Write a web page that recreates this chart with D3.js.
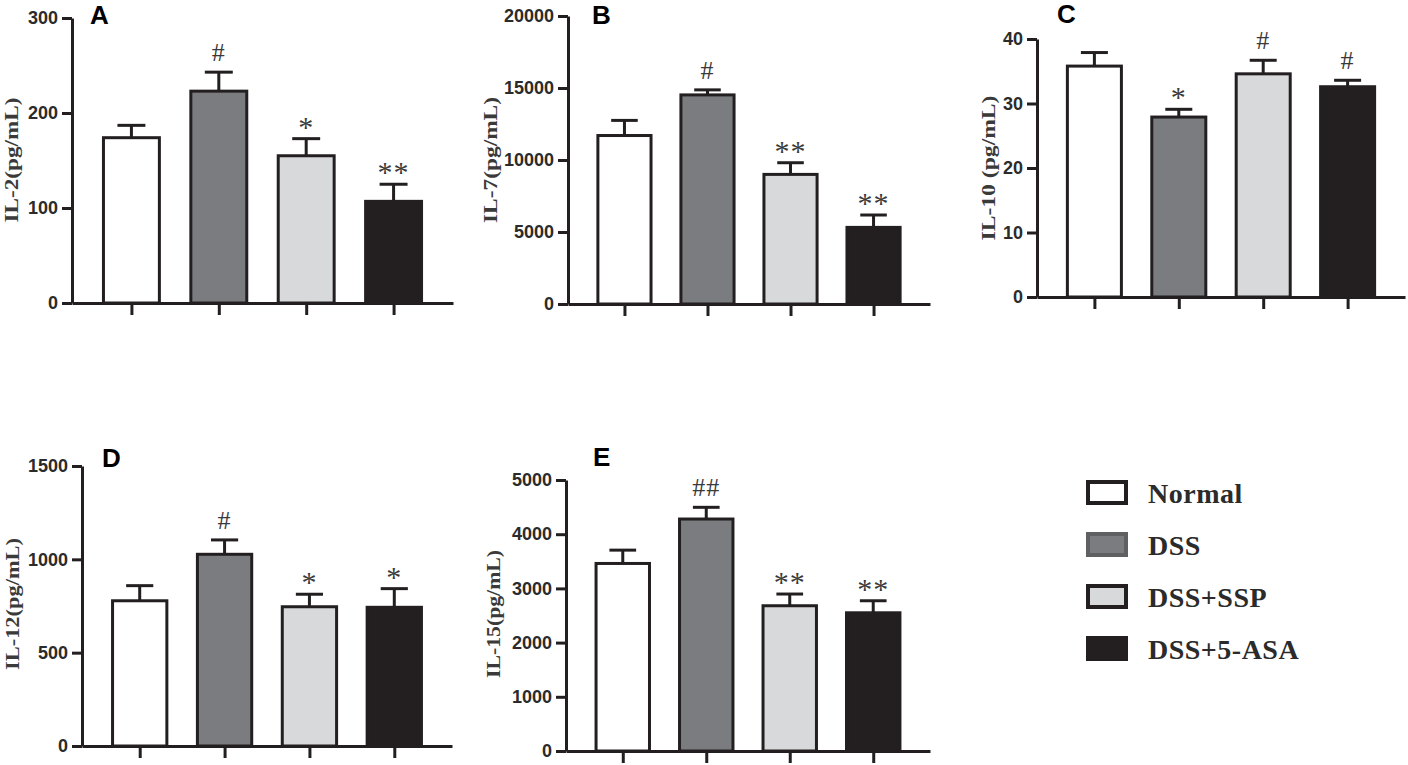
<!DOCTYPE html>
<html>
<head>
<meta charset="utf-8">
<script src="https://cdn.jsdelivr.net/npm/d3@7/dist/d3.min.js"></script>
<style>
  body { margin: 0; background: #fff; }
  svg { display: block; }
</style>
</head>
<body>
<svg id="chart" width="1408" height="765"></svg>
<script>
// groups shared by every panel
var groups = ["Normal", "DSS", "DSS+SSP", "DSS+5-ASA"];

// values (mean, SEM)
var il2Mean = [174, 223, 155, 107];
var il2Err = [13, 20, 18, 18];
var il2Ticks = [0, 100, 200, 300];
var il2Sig = ["", "#", "*", "**"];

var il7Mean = [11700, 14520, 9000, 5320];
var il7Err = [1050, 350, 810, 860];
var il7Ticks = [0, 5000, 10000, 15000, 20000];
var il7Sig = ["", "#", "**", "**"];

var il10Mean = [35.8, 27.9, 34.6, 32.6];
var il10Err = [2.1, 1.2, 2.1, 1.0];
var il10Ticks = [0, 10, 20, 30, 40];
var il10Sig = ["", "*", "#", "#"];

var il12Mean = [778, 1027, 746, 743];
var il12Err = [81, 77, 67, 100];
var il12Ticks = [0, 500, 1000, 1500];
var il12Sig = ["", "#", "*", "*"];

var il15Mean = [3460, 4280, 2680, 2550];
var il15Err = [246, 216, 216, 222];
var il15Ticks = [0, 1000, 2000, 3000, 4000, 5000];
var il15Sig = ["", "##", "**", "**"];

var fills = ["#ffffff", "#7b7c7f", "#d8d9db", "#231f20"];
var ink = "#231f20";

var panels = [
  { letter: "A", label: "IL-2(pg/mL)", mean: il2Mean, err: il2Err, ticks: il2Ticks, sig: il2Sig,
    x0: 72, x1: 453, yTop: 18, yBot: 303, lx: 11, ly: 160, lLen: 125, px: 90, py: 24 },
  { letter: "B", label: "IL-7(pg/mL)", mean: il7Mean, err: il7Err, ticks: il7Ticks, sig: il7Sig,
    x0: 568, x1: 930, yTop: 16, yBot: 304, lx: 490, ly: 160, lLen: 126, px: 592, py: 24 },
  { letter: "C", label: "IL-10 (pg/mL)", mean: il10Mean, err: il10Err, ticks: il10Ticks, sig: il10Sig,
    x0: 1037, x1: 1405, yTop: 39, yBot: 297, lx: 988, ly: 168, lLen: 145, px: 1057, py: 23 },
  { letter: "D", label: "IL-12(pg/mL)", mean: il12Mean, err: il12Err, ticks: il12Ticks, sig: il12Sig,
    x0: 82, x1: 452, yTop: 466, yBot: 746, lx: 12, ly: 604, lLen: 132, px: 102, py: 467 },
  { letter: "E", label: "IL-15(pg/mL)", mean: il15Mean, err: il15Err, ticks: il15Ticks, sig: il15Sig,
    x0: 566, x1: 930, yTop: 480, yBot: 751, lx: 493, ly: 614, lLen: 128, px: 593, py: 466 }
];

var svg = d3.select("#chart");

function drawPanel(p) {
  var g = svg.append("g");
  var rows = groups.map(function(name, i) {
    return { name: name, mean: p.mean[i], err: p.err[i], sig: p.sig[i], fill: fills[i] };
  });

  var x = d3.scalePoint().domain(groups).range([p.x0, p.x1]).padding(0.68);
  var y = d3.scaleLinear().domain([0, d3.max(p.ticks)]).range([p.yBot, p.yTop]);
  var barW = x.step() * 0.64;
  var capW = barW * 0.5;

  // error bars behind the bars
  g.selectAll("line.err")
    .data(rows)
    .enter()
    .append("line")
    .attr("class", "err")
    .attr("x1", function(d) { return x(d.name); })
    .attr("x2", function(d) { return x(d.name); })
    .attr("y1", function(d) { return y(d.mean); })
    .attr("y2", function(d) { return y(d.mean + d.err); })
    .attr("stroke", ink)
    .attr("stroke-width", 3);

  g.selectAll("line.cap")
    .data(rows)
    .enter()
    .append("line")
    .attr("class", "cap")
    .attr("x1", function(d) { return x(d.name) - capW / 2; })
    .attr("x2", function(d) { return x(d.name) + capW / 2; })
    .attr("y1", function(d) { return y(d.mean + d.err); })
    .attr("y2", function(d) { return y(d.mean + d.err); })
    .attr("stroke", ink)
    .attr("stroke-width", 3);

  g.selectAll("rect.bar")
    .data(rows)
    .enter()
    .append("rect")
    .attr("class", "bar")
    .attr("x", function(d) { return x(d.name) - barW / 2; })
    .attr("y", function(d) { return y(d.mean); })
    .attr("width", barW)
    .attr("height", function(d) { return y(0) - y(d.mean); })
    .attr("fill", function(d) { return d.fill; })
    .attr("stroke", ink)
    .attr("stroke-width", 3);

  // significance marks
  g.selectAll("text.sig")
    .data(rows.filter(function(d) { return d.sig; }))
    .enter()
    .append("text")
    .attr("class", "sig")
    .attr("x", function(d) { return x(d.name); })
    .attr("y", function(d) {
      var off = d.sig.charAt(0) === "#" ? 11 : 2;
      return y(d.mean + d.err) - off;
    })
    .attr("text-anchor", "middle")
    .attr("font-family", "'Liberation Serif', 'Times New Roman', serif")
    .attr("font-size", function(d) { return d.sig.charAt(0) === "#" ? "26px" : "30px"; })
    .attr("fill", "#3a3a3a")
    .attr("letter-spacing", "1px")
    .text(function(d) { return d.sig; });

  // axes
  var yAxis = d3.axisLeft(y)
    .tickValues(p.ticks)
    .tickFormat(d3.format("d"))
    .tickSize(10)
    .tickSizeOuter(0)
    .tickPadding(4);
  var ya = g.append("g")
    .attr("transform", "translate(" + p.x0 + ",0)")
    .call(yAxis);

  var xAxis = d3.axisBottom(x).tickSize(12).tickSizeOuter(0).tickFormat("");
  var xa = g.append("g")
    .attr("transform", "translate(0," + p.yBot + ")")
    .call(xAxis);

  [ya, xa].forEach(function(a) {
    a.select(".domain").attr("stroke", ink).attr("stroke-width", 3);
    a.selectAll(".tick line").attr("stroke", ink).attr("stroke-width", 3);
  });

  ya.selectAll(".tick text")
    .attr("font-family", "'Liberation Sans', Arial, sans-serif")
    .attr("font-weight", "bold")
    .attr("font-size", "18px")
    .attr("fill", "#2b2b2b");

  // y label
  g.append("text")
    .attr("transform", "translate(" + p.lx + "," + p.ly + ") rotate(-90)")
    .attr("dy", "0.36em")
    .attr("text-anchor", "middle")
    .attr("font-family", "'Liberation Serif', 'Times New Roman', serif")
    .attr("font-weight", "bold")
    .attr("font-size", "19px")
    .attr("fill", "#3a3a3a")
    .attr("textLength", p.lLen)
    .attr("lengthAdjust", "spacingAndGlyphs")
    .text(p.label);

  // panel letter
  g.append("text")
    .attr("x", p.px)
    .attr("y", p.py)
    .attr("font-family", "'Liberation Sans', Arial, sans-serif")
    .attr("font-weight", "bold")
    .attr("font-size", "26px")
    .attr("fill", "#000")
    .text(p.letter);
}

panels.forEach(drawPanel);

// legend
var legendBorder = [ink, "#5f6062", ink, ink];
var legend = svg.append("g").attr("transform", "translate(1086,480)");
var item = legend.selectAll("g.item")
  .data(groups)
  .enter()
  .append("g")
  .attr("class", "item")
  .attr("transform", function(d, i) { return "translate(0," + (i * 52) + ")"; });

item.append("rect")
  .attr("x", 2)
  .attr("y", 2)
  .attr("width", 38)
  .attr("height", 21)
  .attr("fill", function(d, i) { return fills[i]; })
  .attr("stroke", function(d, i) { return legendBorder[i]; })
  .attr("stroke-width", 4);

item.append("text")
  .attr("x", 62)
  .attr("y", 23)
  .attr("font-family", "'Liberation Serif', 'Times New Roman', serif")
  .attr("font-weight", "bold")
  .attr("font-size", "28px")
  .attr("fill", "#2b2b2b")
  .attr("letter-spacing", "0.5px")
  .text(function(d) { return d; });
</script>
</body>
</html>
